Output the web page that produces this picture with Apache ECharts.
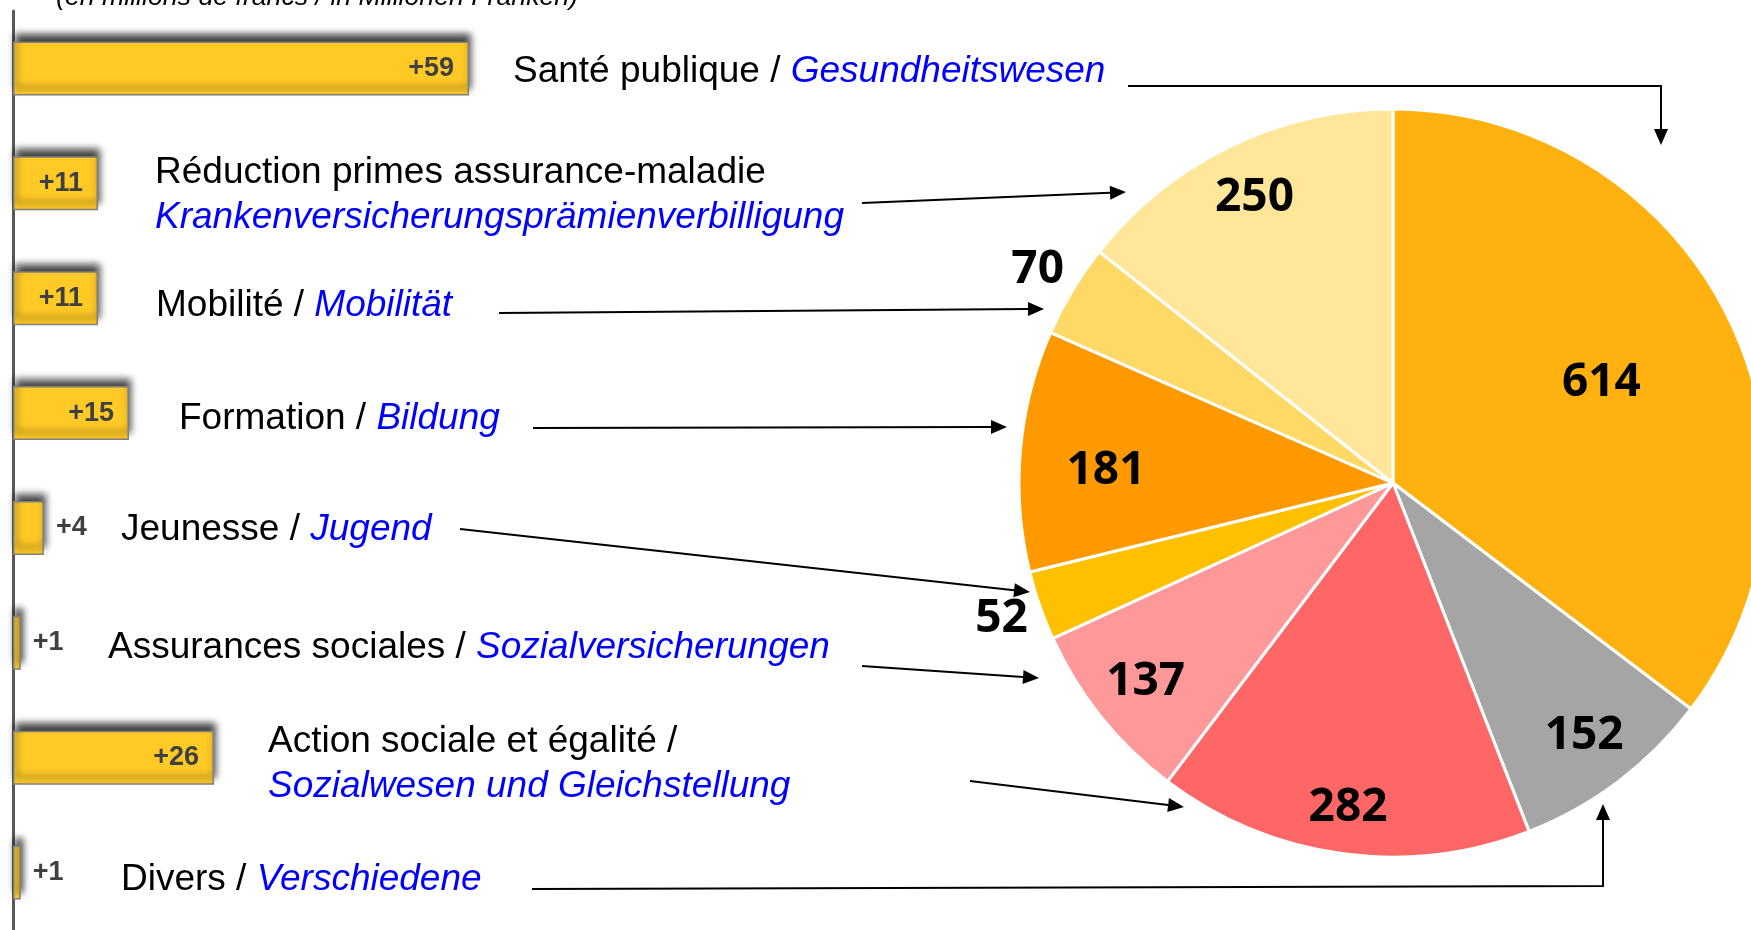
<!DOCTYPE html>
<html>
<head>
<meta charset="utf-8">
<script src="https://cdn.jsdelivr.net/npm/echarts@6/dist/echarts.min.js"></script>
<style>
html, body { margin: 0; padding: 0; background: #fff; }
#main { width: 1751px; height: 930px; }
</style>
</head>
<body>
<div id="main"></div>
<script>
// categories (bars, top to bottom)
var categoriesFr = ['Santé publique', 'Réduction primes assurance-maladie', 'Mobilité', 'Formation',
	'Jeunesse', 'Assurances sociales', 'Action sociale et égalité', 'Divers'];
var categoriesDe = ['Gesundheitswesen', 'Krankenversicherungsprämienverbilligung', 'Mobilität', 'Bildung',
	'Jugend', 'Sozialversicherungen', 'Sozialwesen und Gleichstellung', 'Verschiedene'];
var increase = [59, 11, 11, 15, 4, 1, 26, 1]; // hausse en mio

// pie, clockwise from 12 o'clock
var pieNames = ['Santé publique', 'Divers', 'Action sociale et égalité', 'Assurances sociales',
	'Jeunesse', 'Formation', 'Mobilité', 'Réduction primes assurance-maladie'];
var pieValues = [614, 152, 282, 137, 52, 181, 70, 250];
var pieColors = ['#FFB20F', '#A5A5A5', '#FF6666', '#FF9999', '#FFC000', '#FF9900', '#FFD966', '#FFE699'];

var unitText = '(en millions de francs / in Millionen Franken)';

// where the text of each category goes, and how it breaks
var labelPos = [[513, 72], [155, 195], [156, 306], [179, 419], [121, 530], [108, 648], [268, 764], [121, 880]];
var labelBreak = [false, true, false, false, false, false, true, false];

// pie numbers: distance from centre (share of radius) and small turn in degrees, pie order
var labelFrac = [0.61, 0.84, 0.87, 0.84, 1.1, 0.76, 1.1, 0.84];
var labelTurn = [-0.8, 0, 0, 0, 0, 2.6, 0, 0];

// arrows from the text to the slices
var arrows = [
	[[1128, 86], [1661, 86], [1661, 145]],
	[[862, 203], [1126, 192]],
	[[499, 313], [1044, 309]],
	[[533, 428], [1007, 427]],
	[[460, 529], [1030, 592]],
	[[862, 666], [1039, 678]],
	[[970, 781], [1184, 807]],
	[[532, 889], [1603, 886], [1603, 804]]
];

var cx = 1393, cy = 483, R = 374;

function arrow(points) {
	var n = points.length, p = points[n - 1], q = points[n - 2];
	var ang = Math.atan2(p[1] - q[1], p[0] - q[0]);
	var L = 16, W = 7;
	var base = [p[0] - L * Math.cos(ang), p[1] - L * Math.sin(ang)];
	var line = points.slice(0, n - 1).concat([base]);
	var head = [p,
		[base[0] + W * Math.sin(ang), base[1] - W * Math.cos(ang)],
		[base[0] - W * Math.sin(ang), base[1] + W * Math.cos(ang)]];
	return [
		{ type: 'polyline', z: 50, shape: { points: line }, style: { stroke: '#000', lineWidth: 2, fill: null } },
		{ type: 'polygon', z: 50, shape: { points: head }, style: { fill: '#000' } }
	];
}

var graphics = [{
	type: 'text', x: 56, y: 11, z: 50,
	style: {
		text: unitText, fill: '#000', font: 'italic 26.7px "Liberation Sans"',
		align: 'left', verticalAlign: 'bottom'
	}
}];
for (var i = 0; i < categoriesFr.length; i++) {
	var txt = labelBreak[i]
		? '{fr|' + categoriesFr[i] + (i === 6 ? ' /' : '') + '}\n{de|' + categoriesDe[i] + '}'
		: '{fr|' + categoriesFr[i] + ' / }{de|' + categoriesDe[i] + '}';
	graphics.push({
		type: 'text', x: labelPos[i][0], y: labelPos[i][1], z: 50,
		style: {
			text: txt,
			align: 'left', verticalAlign: 'middle',
			rich: {
				fr: { fontFamily: 'Liberation Sans', fontSize: 37, fill: '#000', lineHeight: 45 },
				de: { fontFamily: 'Liberation Sans', fontSize: 37, fontStyle: 'italic', fill: '#0000FF', lineHeight: 45 }
			}
		}
	});
}
arrows.forEach(function (a) { graphics = graphics.concat(arrow(a)); });

var barData = increase.map(function (v) {
	return { value: v, label: { position: v >= 10 ? 'insideRight' : 'right', distance: v >= 10 ? 15 : 12 } };
});

var pieData = pieValues.map(function (v, k) {
	return { name: pieNames[k], value: v, itemStyle: { color: pieColors[k] } };
});

// transparent ring, only used to put one number at its place
function labelRing(k) {
	var f = labelFrac[k];
	return {
		type: 'pie', center: [cx, cy], radius: [R * (2 * f - 1), R], startAngle: 90 + labelTurn[k], clockwise: true,
		silent: true, z: 5,
		itemStyle: { color: 'rgba(0,0,0,0)', borderWidth: 0 },
		label: {
			show: true, position: 'inside', formatter: '{c}',
			fontFamily: 'Open Sans', fontWeight: 'bold', fontSize: 46, color: '#000'
		},
		labelLine: { show: false },
		data: pieValues.map(function (v, j) {
			return { name: pieNames[j], value: v, label: { show: j === k } };
		})
	};
}

var series = [{
	type: 'bar', barWidth: 54, data: barData, z: 3,
	itemStyle: {
		color: '#FFC926', borderColor: '#7F7F7F', borderWidth: 1.5,
		shadowColor: 'rgba(0,0,0,0.75)', shadowBlur: 7, shadowOffsetX: 2, shadowOffsetY: -7
	},
	label: {
		show: true, formatter: '+{c}',
		fontFamily: 'Liberation Sans', fontWeight: 'bold', fontSize: 27, color: '#404040'
	}
}, {
	type: 'pie', center: [cx, cy], radius: R, startAngle: 90, clockwise: true,
	silent: true, z: 2,
	itemStyle: { borderColor: '#fff', borderWidth: 3 },
	label: { show: false }, labelLine: { show: false },
	data: pieData
}];
for (var k = 0; k < pieValues.length; k++) series.push(labelRing(k));

var chart = echarts.init(document.getElementById('main'));
var option = {
	backgroundColor: '#fff',
	animation: false,
	grid: { left: 13, top: 11, width: 773, height: 924 },
	xAxis: { type: 'value', min: 0, max: 100, show: false },
	yAxis: {
		type: 'category', inverse: true, data: categoriesFr,
		axisLine: { show: true, lineStyle: { color: '#595959', width: 3 } },
		axisTick: { show: false }, axisLabel: { show: false }, splitLine: { show: false }
	},
	series: series,
	graphic: graphics
};
chart.setOption(option);
</script>
</body>
</html>
